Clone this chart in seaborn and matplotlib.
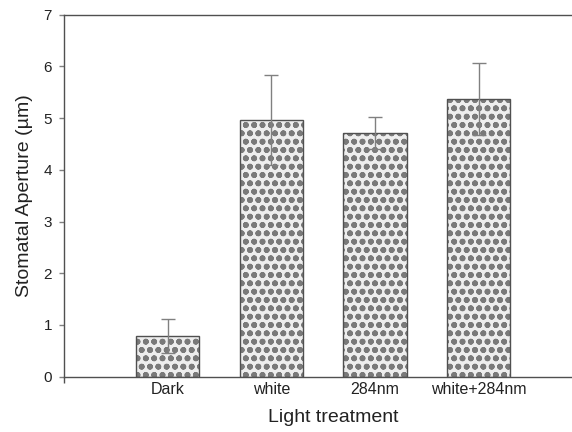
import matplotlib
matplotlib.use("Agg")
import matplotlib.pyplot as plt
from matplotlib.patches import Rectangle
import seaborn as sns
import pandas as pd

categories = ["Dark", "white", "284nm", "white+284nm"]
aperture = [0.78, 4.97, 4.71, 5.37]
errors = [0.33, 0.87, 0.31, 0.70]
y_ticks = [0, 1, 2, 3, 4, 5, 6, 7]

sns.set_theme(style="white")
plt.rcParams['font.family'] = ['Liberation Sans', 'DejaVu Sans']
plt.rcParams['hatch.linewidth'] = 1.8

df = pd.DataFrame({"Light treatment": categories, "aperture": aperture})

fig = plt.figure(figsize=(5.72, 4.32), dpi=100)
ax = fig.add_axes([64/572, 1-376.7/432, 1-64/572, (376.7-14.7)/432])

sns.barplot(data=df, x="Light treatment", y="aperture", order=categories,
            color="#eeeeee", errorbar=None, width=0.61, ax=ax,
            edgecolor="#7a7a7a", linewidth=0, hatch="oo", saturation=1)

# crisp dark outline around each bar (taken from the bar patches)
for p in list(ax.patches):
    bb = p.get_bbox()
    ax.add_patch(Rectangle((bb.x0, bb.y0), bb.width, bb.height, fill=False,
                           edgecolor="#505050", linewidth=1.0, zorder=4))

ax.errorbar(range(len(categories)), aperture, yerr=errors, fmt="none",
            ecolor="#808080", elinewidth=1.0, capsize=5, capthick=1.0, zorder=5)

ax.set_xlim(-1.0, 3.9)
ax.set_ylim(0, 7)
ax.set_yticks(y_ticks)
ax.set_yticklabels([str(t) for t in y_ticks])

for s in ["left", "bottom", "top"]:
    ax.spines[s].set_visible(True)
    ax.spines[s].set_color("#505050")
    ax.spines[s].set_linewidth(1.0)
ax.spines["right"].set_visible(False)

ax.tick_params(axis="y", direction="out", length=3.6, width=1, color="#808080",
               pad=5, labelsize=11, labelcolor="#222222", left=True)
ax.tick_params(axis="x", which="major", length=0, pad=3.7, labelsize=11.5, labelcolor="#222222")
ax.set_xticks([-1], minor=True)
ax.tick_params(axis="x", which="minor", length=4, width=1, color="#505050", direction="out", bottom=True)

ax.set_ylabel("Stomatal Aperture (\u00b5m)", fontsize=14, color="#222222")
ax.yaxis.set_label_coords(-0.061, 0.5)
ax.set_xlabel("Light treatment", fontsize=14, color="#222222")
ax.xaxis.set_label_coords(0.531, -0.089)

fig.savefig("out.png", dpi=100)
